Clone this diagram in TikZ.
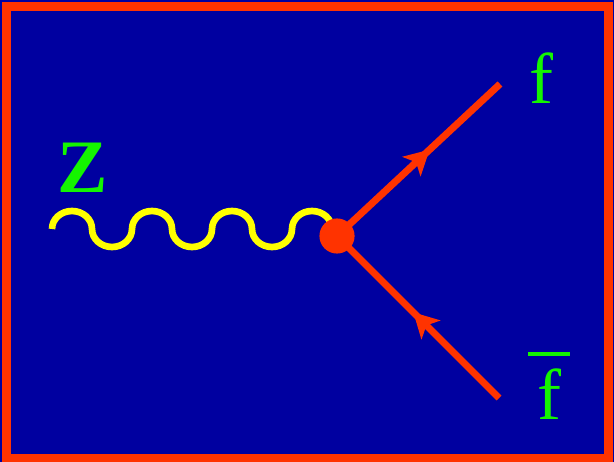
\documentclass[tikz,border=0pt]{standalone}
\usepackage{fontspec}
\setmainfont{Liberation Serif}
\usetikzlibrary{arrows.meta,positioning,decorations.markings}
\definecolor{bgblue}{RGB}{0,0,160}
\definecolor{lineRed}{RGB}{255,51,0}
\definecolor{bosonYellow}{RGB}{255,255,0}
\definecolor{labelGreen}{RGB}{20,245,0}

\begin{document}
\begin{tikzpicture}[x=0.02cm, y=-0.02cm,
      boson/.style={bosonYellow, line width=3.8pt},
      fermion/.style={lineRed, line width=4pt, postaction={decorate},
                      decoration={markings, mark=at position #1 with {\arrow[lineRed]{Stealth[length=14pt,width=15pt,inset=3.5pt]}}}},
      fermion/.default=0.55,
      vertex/.style={circle, fill=lineRed, inner sep=0pt, minimum size=20pt},
      lbl/.style={text=labelGreen, inner sep=0pt, font=\fontsize{41}{44}\selectfont}
    ]
      \useasboundingbox (0,0) rectangle (614,462);
      \fill[bgblue] (0,0) rectangle (614,462);
      \draw[lineRed, line width=4.6pt] (6.5,6.5) rectangle (608.5,458);
      % external points
      \coordinate (zin) at (52,229);
      \coordinate (vtx) at (337,236);
      \coordinate (fout) at (500,84);
      \coordinate (fbarin) at (499,398);
      % Z propagator
      \draw[boson] (zin)
        foreach \i in {1,2,3} {
          arc[start angle=180, end angle=360, x radius=20, y radius=18]
          arc[start angle=180, end angle=0, x radius=20, y radius=18]
        }
        arc[start angle=180, end angle=360, x radius=20, y radius=18];
      % fermion lines
      \draw[fermion=0.57] (vtx) -- (fout);
      \draw[fermion=0.53] (fbarin) -- (vtx);
      \node[vertex] (dot) at (vtx) {};
      % labels
      \node[lbl, font=\fontsize{43}{44}\selectfont\bfseries] (zlbl) at (83,168) {Z};
      \node[lbl] (flbl) at (541,78) {f};
      \node[lbl, align=center] (fbarlbl) at (549,386) {\rule{23.8pt}{2.4pt}\\[-8pt]f};
    \end{tikzpicture}
\end{document}
